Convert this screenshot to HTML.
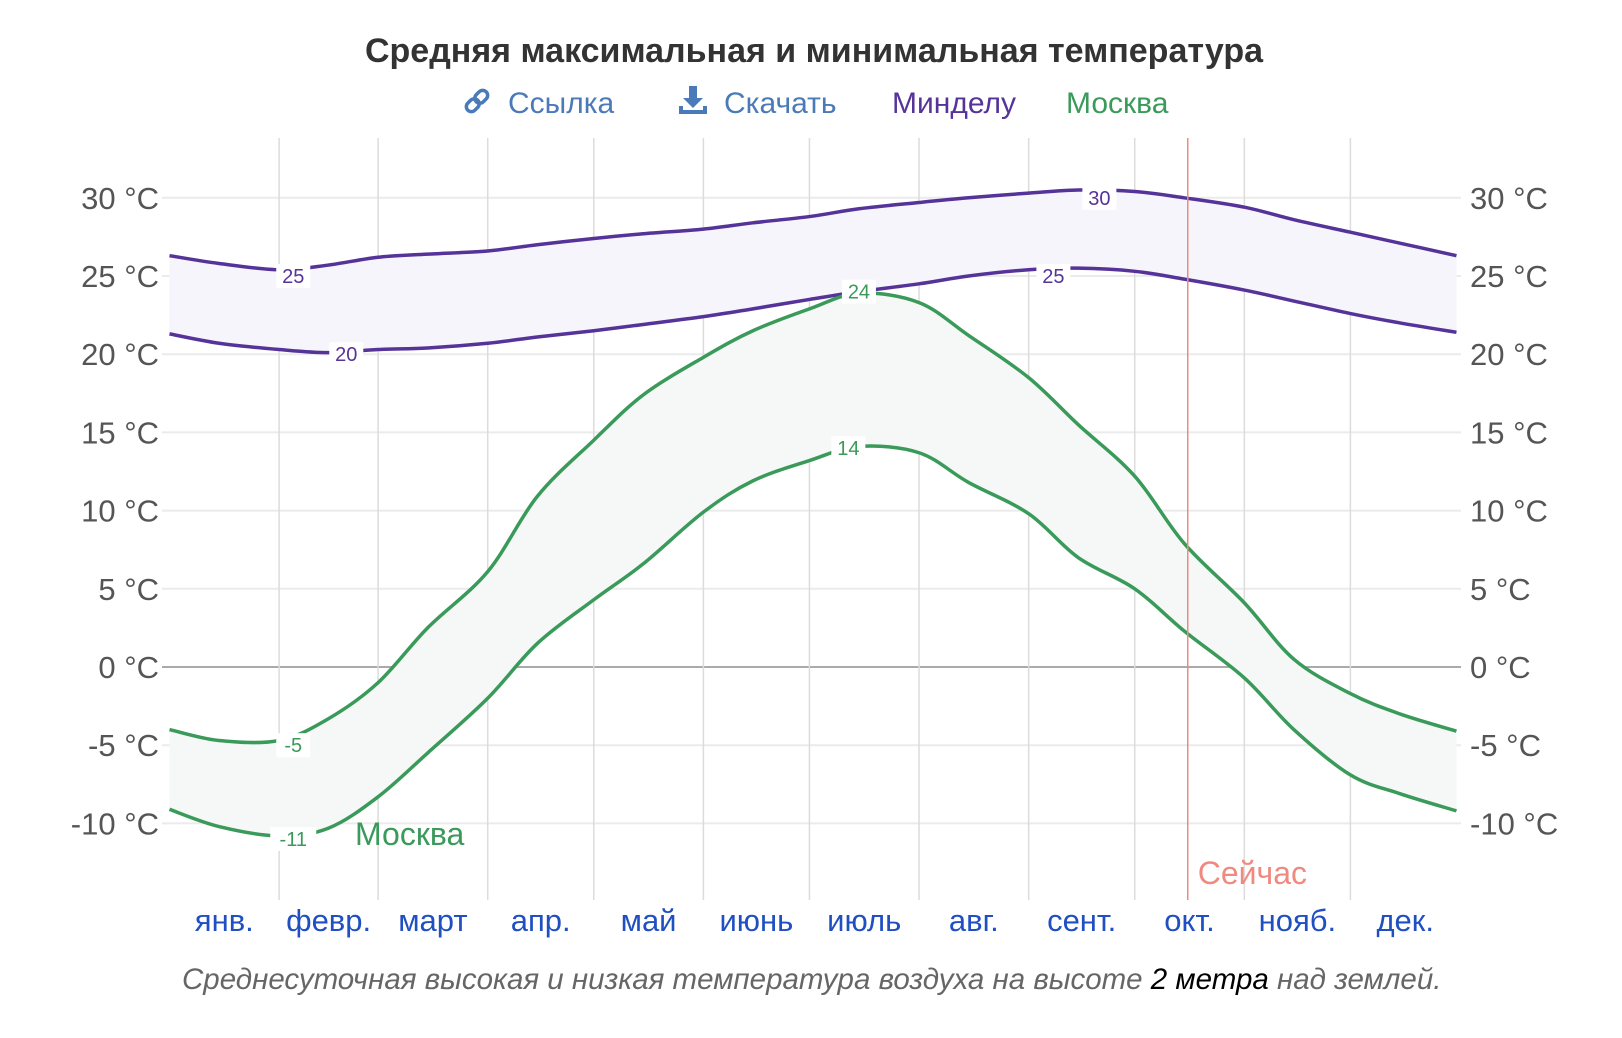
<!DOCTYPE html>
<html><head><meta charset="utf-8">
<style>
body{margin:0;background:#fff;width:1622px;height:1038px;overflow:hidden;font-family:"Liberation Sans","DejaVu Sans",sans-serif;}
svg{display:block}
</style></head>
<body>
<svg width="1622" height="1038" viewBox="0 0 1622 1038" id="chart">
  <text x="814" y="62" text-anchor="middle" font-size="34" font-weight="bold" fill="#333">Средняя максимальная и минимальная температура</text>
  <g>
    <g transform="translate(477,101) rotate(-45)" fill="none" stroke="#4a7ab8" stroke-width="3.5">
      <rect x="-13" y="-5" width="14" height="10" rx="5"/>
      <rect x="-1" y="-5" width="14" height="10" rx="5"/>
    </g>
    <text x="508" y="113" font-size="30" fill="#4a7ab8">Ссылка</text>
  </g>
  <g>
    <path d="M689 86 h8 v12 h6 l-10 10 l-10 -10 h6 z M679 106 v8 h28 v-8 h-4 v4 h-20 v-4 z" fill="#4a7ab8"/>
    <text x="724" y="113" font-size="30" fill="#4a7ab8">Скачать</text>
  </g>
  <text x="892" y="113" font-size="30" fill="#553399">Минделу</text>
  <text x="1066" y="113" font-size="30" fill="#3a9a5a">Москва</text>
  <g id="grid"></g>
  <g id="marks"></g>
  <g id="labels"></g>
  <text x="182" y="989" font-size="29.5" font-style="italic" fill="#666">Среднесуточная высокая и низкая температура воздуха на высоте <tspan fill="#000">2 метра</tspan> над землей.</text>
</svg>
<script>
const days=[0,14,31,45,59,73,90,104,120,134,151,165,181,195,212,226,243,257,273,287,304,318,334,348,364];
const mindeloHigh=[26.3,25.8,25.4,25.7,26.2,26.4,26.6,27.0,27.4,27.7,28.0,28.4,28.8,29.3,29.7,30.0,30.3,30.5,30.4,30.0,29.4,28.6,27.8,27.1,26.3];
const mindeloLow=[21.3,20.7,20.3,20.1,20.3,20.4,20.7,21.1,21.5,21.9,22.4,22.9,23.5,24.0,24.5,25.0,25.4,25.5,25.3,24.8,24.1,23.4,22.6,22.0,21.4];
const moscowHigh=[-4.0,-4.7,-4.7,-3.3,-1.0,2.5,6.1,10.9,14.5,17.4,19.8,21.5,22.9,23.9,23.3,21.2,18.5,15.5,12.2,7.9,4.1,0.5,-1.7,-3.0,-4.1];
const moscowLow=[-9.1,-10.2,-10.8,-10.3,-8.3,-5.5,-2.0,1.5,4.3,6.6,9.9,11.9,13.2,14.1,13.7,11.8,9.8,7.0,5.0,2.3,-0.7,-4.0,-6.9,-8.1,-9.2];
const yTicks=[30,25,20,15,10,5,0,-5,-10];
const months=["янв.","февр.","март","апр.","май","июнь","июль","авг.","сент.","окт.","нояб.","дек."];
const monthStarts=[0,31,59,90,120,151,181,212,243,273,304,334,365];
const labelsMH=[[35,25],[263,30]], labelsML=[[50,20],[250,25]], labelsKH=[[35,-5],[195,24]], labelsKL=[[35,-11],[192,14]];
const nowDay=288;

const X0=169.5,X1=1460,Y0=667,PY=15.64;
const xs=d=>X0+(X1-X0)*d/365;
const ys=t=>Y0-t*PY;
const NS="http://www.w3.org/2000/svg";
const grid=document.getElementById('grid'),marks=document.getElementById('marks'),labels=document.getElementById('labels');
function mk(tag,attrs,parent){const e=document.createElementNS(NS,tag);for(const k in attrs)e.setAttribute(k,attrs[k]);parent.appendChild(e);return e;}

yTicks.forEach(t=>{
  const l=mk('line',{x1:162,x2:1461,y1:ys(t),y2:ys(t),stroke:t===0?'#aaa':'#ebebeb','stroke-width':2},grid);
  
  
  const a=mk('text',{x:159,y:ys(t)+11,'text-anchor':'end','font-size':31,fill:'#555'},grid);
  a.textContent=t+' °C';
  
  
  const b=mk('text',{x:1470,y:ys(t)+11,'font-size':31,fill:'#555'},grid);
  b.textContent=t+' °C';
  
  
});
monthStarts.slice(1,12).forEach(d=>{
  const l=mk('line',{x1:xs(d),x2:xs(d),y1:138,y2:900,stroke:'#dcdcdc','stroke-width':1.5},grid);
  
  
});
months.forEach((m,i)=>{
  const t=mk('text',{x:(xs(monthStarts[i])+xs(monthStarts[i+1]))/2,y:931,'text-anchor':'middle','font-size':31,fill:'#1f4fc0'},grid);
  t.textContent=m;
  
  
});

function pts(vals){return days.map((d,i)=>[xs(d),ys(vals[i])]);}
function curve(p){
  let s='';
  for(let i=0;i<p.length-1;i++){
    const p0=p[Math.max(0,i-1)],p1=p[i],p2=p[i+1],p3=p[Math.min(p.length-1,i+2)];
    const c1=[p1[0]+(p2[0]-p0[0])/6,p1[1]+(p2[1]-p0[1])/6];
    const c2=[p2[0]-(p3[0]-p1[0])/6,p2[1]-(p3[1]-p1[1])/6];
    s+=' C'+c1.join(' ')+' '+c2.join(' ')+' '+p2.join(' ');
  }
  return s;
}
function band(hi,lo,fill,name){
  const ph=pts(hi),pl=pts(lo).reverse();
  const d='M'+ph[0].join(' ')+curve(ph)+' L'+pl[0].join(' ')+curve(pl)+' Z';
  const e=mk('path',{d:d,fill:fill,stroke:'none'},marks);
  
  
}
function line(vals,color,name){
  const p=pts(vals);
  const e=mk('path',{d:'M'+p[0].join(' ')+curve(p),fill:'none',stroke:color,'stroke-width':3.5},marks);
  
  
}
band(mindeloHigh,mindeloLow,'#f6f5fb','mindelo-band');
band(moscowHigh,moscowLow,'#f5f8f6','moscow-band');
line(mindeloHigh,'#553399','mindelo-high-line');
line(mindeloLow,'#553399','mindelo-low-line');
line(moscowHigh,'#3a9a5a','moscow-high-line');
line(moscowLow,'#3a9a5a','moscow-low-line');

function valLabels(arr,color,name){
  arr.forEach(([d,v])=>{
    const w=String(v).length*12+10;
    mk('rect',{x:xs(d)-w/2,y:ys(v)-12,width:w,height:24,fill:'#fff'},labels);
    const t=mk('text',{x:xs(d),y:ys(v)+7,'text-anchor':'middle','font-size':20,fill:color},labels);
    t.textContent=v;
    
    
  });
}
valLabels(labelsMH,'#553399','mindelo-high-label');
valLabels(labelsML,'#553399','mindelo-low-label');
valLabels(labelsKH,'#3a9a5a','moscow-high-label');
valLabels(labelsKL,'#3a9a5a','moscow-low-label');

const ml=mk('text',{x:355,y:845,'font-size':32,fill:'#3a9a5a'},labels);
ml.textContent='Москва';


const nl=mk('line',{x1:xs(nowDay),x2:xs(nowDay),y1:138,y2:900,stroke:'#f08a80','stroke-width':1.5},labels);


const nt=mk('text',{x:xs(nowDay)+10,y:884,'font-size':32,fill:'#f08a80'},labels);
nt.textContent='Сейчас';


</script>
</body></html>
